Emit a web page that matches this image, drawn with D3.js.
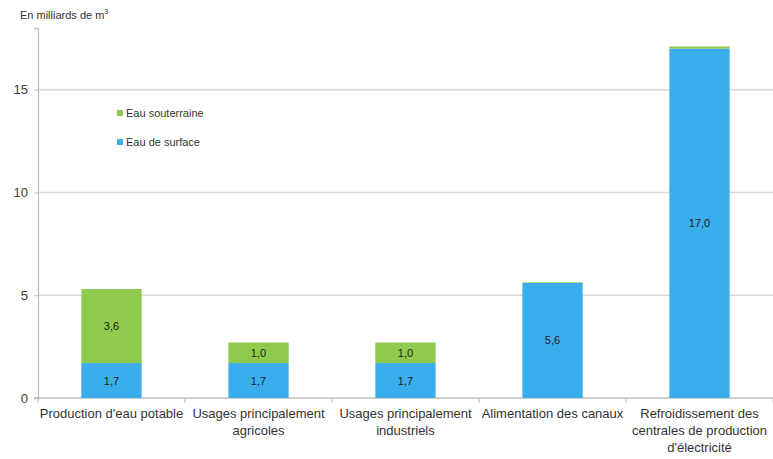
<!DOCTYPE html>
<html>
<head>
<meta charset="utf-8">
<script src="https://cdn.jsdelivr.net/npm/d3@7"></script>
<style>
  body { margin: 0; background: #fff; }
  svg { display: block; font-family: "Liberation Sans", Arial, sans-serif; }
</style>
</head>
<body>
<svg id="chart" width="773" height="459"></svg>
<script>
const categories = [
  ["Production d'eau potable"],
  ["Usages principalement", "agricoles"],
  ["Usages principalement", "industriels"],
  ["Alimentation des canaux"],
  ["Refroidissement des", "centrales de production", "d'électricité"]
];
const surface = [1.7, 1.7, 1.7, 5.6, 17.0];
const souterraine = [3.6, 1.0, 1.0, 0.03, 0.1];
const surfaceLabels = ["1,7", "1,7", "1,7", "5,6", "17,0"];
const souterraineLabels = ["3,6", "1,0", "1,0", "", ""];
const yTicks = [0, 5, 10, 15];
const seriesNames = ["Eau souterraine", "Eau de surface"];
const colors = { surface: "#3aaeed", souterraine: "#8fca4c" };

const svg = d3.select("#chart");
const margin = { left: 38, right: 0, top: 28, bottom: 61 };
const W = 773, H = 459;
const x = d3.scaleBand().domain(d3.range(categories.length)).range([margin.left, W - margin.right]).paddingInner(0.59).paddingOuter(0.295);
const xEdge = d3.scaleLinear().domain([0, categories.length]).range([margin.left, W - margin.right]);
const y = d3.scaleLinear().domain([0, 18]).range([H - margin.bottom, margin.top]);

// gridlines
svg.append("g").selectAll("line").data(yTicks.filter(d => d > 0)).join("line")
  .attr("x1", margin.left).attr("x2", W - margin.right)
  .attr("y1", d => y(d)).attr("y2", d => y(d))
  .attr("stroke", "#d9d9d9").attr("stroke-width", 1.5);

// y axis
const yAxis = svg.append("g").attr("transform", `translate(${margin.left},0)`)
  .call(d3.axisLeft(y).tickValues(yTicks).tickSize(4).tickPadding(6).tickFormat(d3.format("d")));
yAxis.select(".domain").attr("stroke", "#bfbfbf").attr("stroke-width", 1.3);
yAxis.selectAll(".tick line").attr("stroke", "#bfbfbf");
yAxis.selectAll("text").attr("fill", "#404040").attr("font-size", 13);

// x axis baseline + ticks
const xg = svg.append("g");
xg.append("line").attr("x1", margin.left - 4).attr("x2", W - margin.right)
  .attr("y1", y(0)).attr("y2", y(0)).attr("stroke", "#bfbfbf").attr("stroke-width", 1.3);
xg.selectAll("line.tk").data(d3.range(categories.length + 1)).join("line").attr("class", "tk")
  .attr("x1", d => xEdge(d)).attr("x2", d => xEdge(d))
  .attr("y1", y(0)).attr("y2", y(0) + 5).attr("stroke", "#bfbfbf");

// bars
const g = svg.append("g");
g.selectAll("rect.s").data(surface).join("rect").attr("class", "s")
  .attr("x", (d, i) => x(i)).attr("width", x.bandwidth())
  .attr("y", d => y(d)).attr("height", d => y(0) - y(d))
  .attr("fill", colors.surface);
g.selectAll("rect.g").data(souterraine).join("rect").attr("class", "g")
  .attr("x", (d, i) => x(i)).attr("width", x.bandwidth())
  .attr("y", (d, i) => y(surface[i] + d)).attr("height", (d, i) => y(surface[i]) - y(surface[i] + d))
  .attr("fill", colors.souterraine);

// value labels
g.selectAll("text.sl").data(surface).join("text").attr("class", "sl")
  .attr("x", (d, i) => x(i) + x.bandwidth() / 2)
  .attr("y", d => (y(0) + y(d)) / 2 + 4)
  .attr("text-anchor", "middle").attr("font-size", 11).attr("fill", "#1a1a1a")
  .text((d, i) => surfaceLabels[i]);
g.selectAll("text.gl").data(souterraine).join("text").attr("class", "gl")
  .attr("x", (d, i) => x(i) + x.bandwidth() / 2)
  .attr("y", (d, i) => (y(surface[i]) + y(surface[i] + d)) / 2 + 4)
  .attr("text-anchor", "middle").attr("font-size", 11).attr("fill", "#1a1a1a")
  .text((d, i) => souterraineLabels[i]);

// category labels
const cl = svg.append("g").selectAll("text").data(categories).join("text")
  .attr("x", (d, i) => xEdge(i + 0.5))
  .attr("y", y(0) + 20)
  .attr("text-anchor", "middle").attr("font-size", 13).attr("fill", "#333");
cl.selectAll("tspan").data(d => d).join("tspan")
  .attr("x", function() { return d3.select(this.parentNode).attr("x"); })
  .attr("dy", (d, j) => j === 0 ? 0 : 17)
  .text(d => d);

// legend
const legend = svg.append("g");
const legendColors = [colors.souterraine, colors.surface];
const lg = legend.selectAll("g").data(seriesNames).join("g")
  .attr("transform", (d, i) => `translate(117, ${110 + i * 29})`);
lg.append("rect").attr("width", 6).attr("height", 6).attr("fill", (d, i) => legendColors[i]);
lg.append("text").attr("x", 9).attr("y", 7).attr("font-size", 11).attr("fill", "#333").text(d => d);

// unit title
svg.append("text").attr("x", 20).attr("y", 19).attr("font-size", 11).attr("fill", "#333")
  .text("En milliards de m").append("tspan").attr("dy", -5).attr("font-size", 7).text("3");
</script>
</body>
</html>
